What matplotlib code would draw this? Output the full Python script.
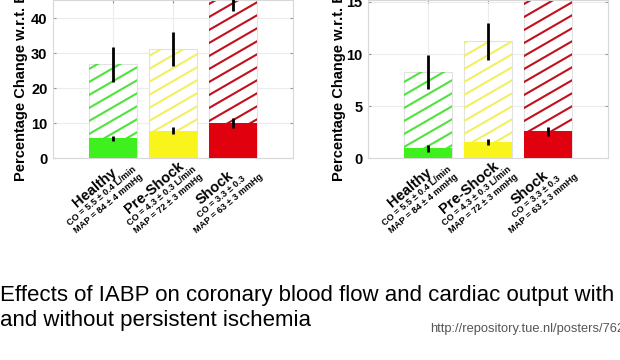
import numpy as np
import matplotlib
matplotlib.use('Agg')
import matplotlib.pyplot as plt
from matplotlib.lines import Line2D
from matplotlib.transforms import IdentityTransform

plt.rcParams['font.family'] = ['Liberation Sans', 'DejaVu Sans']

# data
categories = ['Healthy', 'Pre-Shock', 'Shock']
conditions = ['CO = 5.5 ± 0.4 L/min\nMAP = 84 ± 4 mmHg',
              'CO = 4.3 ± 0.3 L/min\nMAP = 72 ± 3 mmHg',
              'CO = 3.3 ± 0.3\nMAP = 63 ± 3 mmHg']
positions = [1, 2, 3]

left_total = [26.9, 31.3, 47.5]
left_total_err = [5.0, 4.9, 5.3]
left_solid = [5.7, 7.9, 10.2]
left_solid_err = [0.8, 1.0, 1.4]

right_total = [8.3, 11.2, 19.0]
right_total_err = [1.65, 1.75, 3.0]
right_solid = [0.97, 1.55, 2.6]
right_solid_err = [0.35, 0.32, 0.43]

solid_colors = ['#3df01e', '#f9f51c', '#e0000e']
hatch_colors = ['#4fe43c', '#f2f060', '#c2101e']
ylabel = 'Percentage Change w.r.t. Baseline'

fig = plt.figure(figsize=(6.2, 3.6), dpi=100)
W, H = 620, 360


def hatch_bar(ax, patch, color, spacing=13.0, angle=30):
    # slanted hatch lines in pixel space, clipped to the bar
    bb = patch.get_window_extent()
    rise = np.tan(np.radians(angle)) * bb.width
    for y in np.arange(bb.y0 - rise, bb.y1 + spacing, spacing):
        ln = Line2D([bb.x0, bb.x1], [y, y + rise], color=color, lw=1.5,
                    transform=IdentityTransform(), zorder=2.5)
        ax.add_artist(ln)
        ln.set_clip_path(patch)


def panel(left_px, ymax, yticks, total, total_err, solid, solid_err, label_x):
    ax = fig.add_axes([left_px / W, 1 - 158.3 / H, 240 / W, 158.3 / H])
    ax.set_xlim(0, 4)
    ax.set_ylim(0, ymax)
    ax.set_axisbelow(True)
    ax.grid(True, color='#ececec', lw=0.8)
    for s in ax.spines.values():
        s.set_color('#d8d8d8')
        s.set_linewidth(0.8)
    ax.set_xticks(positions)
    ax.set_xticklabels([])
    ax.set_yticks(yticks)
    ax.tick_params(direction='in', length=2.5, color='#999999', width=0.8,
                   right=True, top=True, labelsize=10.5, pad=4)
    for t in ax.get_yticklabels():
        t.set_fontweight('bold')

    tb = ax.bar(positions, total, width=0.8, color='white',
                edgecolor='#e2e2e2', lw=0.8, zorder=2)
    fig.canvas.draw()
    for p, c in zip(tb.patches, hatch_colors):
        hatch_bar(ax, p, c)
    ax.bar(positions, solid, width=0.8, color=solid_colors, zorder=3)
    ax.errorbar(positions, total, yerr=total_err, fmt='none', ecolor='black',
                elinewidth=2, capsize=0, zorder=4)
    ax.errorbar(positions, solid, yerr=solid_err, fmt='none', ecolor='black',
                elinewidth=2, capsize=0, zorder=4)

    ax.set_ylabel(ylabel, fontsize=10.5, fontweight='bold', loc='bottom')
    ax.yaxis.set_label_coords((label_x - left_px) / 240, (158.3 - 181) / 158.3)

    # rotated category labels: bold name above two small centred lines
    ang = np.radians(40)
    u = np.array([np.cos(ang), np.sin(ang)])
    w = np.array([np.sin(ang), -np.cos(ang)])
    k = 0.72  # px -> points
    for x, name, sub in zip(positions, categories, conditions):
        off = (10.5 * u + 17.5 * w) * k
        small = ax.annotate(sub, xy=(x, 0), xycoords=('data', 'axes fraction'),
                            xytext=off, textcoords='offset points',
                            ha='right', va='top', multialignment='center',
                            fontsize=6.6, fontweight='bold', linespacing=1.1,
                            annotation_clip=False)
        fig.canvas.draw()
        bw = small.get_window_extent().width
        small.set_rotation(40)
        small.set_rotation_mode('anchor')
        noff = off - (bw / 2) * k * u
        ax.annotate(name, xy=(x, 0), xycoords=('data', 'axes fraction'),
                    xytext=noff, textcoords='offset points',
                    ha='center', va='bottom', rotation=40, rotation_mode='anchor',
                    fontsize=10.5, fontweight='bold', annotation_clip=False)
    return ax


panel(53, 158.3 / 3.5, [0, 10, 20, 30, 40], left_total, left_total_err,
      left_solid, left_solid_err, 28)
panel(368, 158.3 / 10.43, [0, 5, 10, 15], right_total, right_total_err,
      right_solid, right_solid_err, 346)

fig.text(0, 1 - 301 / H, 'Effects of IABP on coronary blood flow and cardiac output with',
         fontsize=16, va='baseline', ha='left')
fig.text(0, 1 - 326 / H, 'and without persistent ischemia',
         fontsize=16, va='baseline', ha='left')
fig.text(430 / W, 1 - 332 / H, 'http://repository.tue.nl/posters/762',
         fontsize=9.3, color='#555555', va='baseline', ha='left')

fig.savefig('out.png', dpi=100)
